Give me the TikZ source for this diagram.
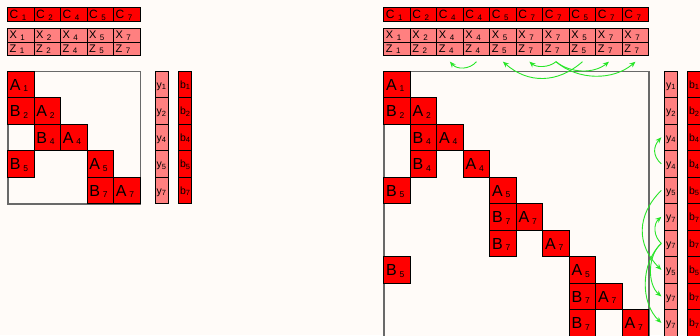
\documentclass[tikz,border=0pt]{standalone}
\usepackage{fontspec}
\setmainfont{Liberation Sans}
\usetikzlibrary{arrows.meta}
\definecolor{bgc}{RGB}{255,251,248}
\definecolor{cred}{RGB}{255,0,0}
\definecolor{cpink}{RGB}{255,128,128}
\definecolor{cgreen}{RGB}{40,230,40}
\definecolor{cframe}{RGB}{105,105,105}
\newcommand{\Lab}[2]{\makebox[21.5pt][l]{\fontsize{16}{16}\selectfont #1\hspace{2.8pt}\raisebox{-1.5pt}{\fontsize{8.5}{8.5}\selectfont #2}}}
\newcommand{\Cl}[2]{\makebox[22pt][l]{\fontsize{12}{12}\selectfont #1\hspace{3.5pt}\raisebox{-1.5pt}{\fontsize{8}{8}\selectfont #2}}}
\newcommand{\Xl}[2]{\makebox[22pt][l]{\fontsize{11}{11}\selectfont #1\hspace{3.5pt}\raisebox{-1.5pt}{\fontsize{8}{8}\selectfont #2}}}
\newcommand{\Yl}[2]{\makebox[10pt][l]{\fontsize{10.5}{10.5}\selectfont #1\raisebox{-1.8pt}{\fontsize{7.5}{7.5}\selectfont #2}}}
\tikzset{
  blk/.style={draw=black, line width=0.8pt, fill=cred, minimum width=26.5pt, minimum height=26.5pt,
    inner xsep=2.5pt, inner ysep=0pt, text height=11.5pt, text depth=0pt, anchor=north west},
  ccell/.style={draw=black, line width=0.8pt, minimum width=26.5pt, minimum height=13.3pt,
    inner xsep=2.2pt, inner ysep=0pt, text height=8.7pt, text depth=0pt, anchor=north west},
  xcell/.style={draw=black, line width=0.8pt, minimum width=26.5pt, minimum height=13.3pt,
    inner xsep=2.2pt, inner ysep=0pt, text height=6.9pt, text depth=0pt, anchor=north west},
  vcell/.style={draw=black, line width=0.8pt, minimum width=12.8pt, minimum height=26.5pt,
    inner xsep=1.4pt, inner ysep=0pt, text height=7.6pt, text depth=0pt, anchor=north west},
  frame/.style={draw=cframe, line width=1.5pt, fill=bgc, inner sep=0pt, anchor=north west},
  garr/.style={draw=cgreen, line width=0.9pt, -{Stealth[length=6pt,width=5pt]}}
}
\begin{document}
\begin{tikzpicture}[x=1pt,y=-1pt]
\useasboundingbox (0,0) rectangle (700,335);
\fill[bgc] (0,0) rectangle (700,335);

% ---------- left part ----------
\foreach \i/\n in {0/1,1/2,2/4,3/5,4/7}{
  \node[ccell, fill=cred] (LC\i) at ({7+26.5*\i},7.3) {\Cl{C}{\n}};
  \node[xcell, fill=cpink] (LX\i) at ({7+26.5*\i},28.3) {\Xl{X}{\n}};
  \node[xcell, fill=cpink] (LZ\i) at ({7+26.5*\i},41.6) {\Xl{Z}{\n}};
}
\node[frame, minimum width=132.5pt, minimum height=132.5pt] (LM) at (7,70.7) {};
\foreach \r/\c/\L/\n in {0/0/A/1,1/0/B/2,1/1/A/2,2/1/B/4,2/2/A/4,3/0/B/5,3/3/A/5,4/3/B/7,4/4/A/7}{
  \node[blk] (LB\r-\c) at ({7+26.5*\c},{70.7+26.5*\r}) {\Lab{\L}{\n}};
}
\foreach \r/\n in {0/1,1/2,2/4,3/5,4/7}{
  \node[vcell, fill=cpink] (LY\r) at (154.7,{70.7+26.5*\r}) {\Yl{y}{\n}};
  \node[vcell, fill=cred] (LBv\r) at (178.3,{70.7+26.5*\r}) {\Yl{b}{\n}};
}

% ---------- right part ----------
\foreach \i/\n in {0/1,1/2,2/4,3/4,4/5,5/7,6/7,7/5,8/7,9/7}{
  \node[ccell, fill=cred] (RC\i) at ({383.3+26.5*\i},7.3) {\Cl{C}{\n}};
  \node[xcell, fill=cpink] (RX\i) at ({383.3+26.5*\i},28.3) {\Xl{X}{\n}};
  \node[xcell, fill=cpink] (RZ\i) at ({383.3+26.5*\i},41.6) {\Xl{Z}{\n}};
}
\node[frame, minimum width=265pt, minimum height=270pt] (RM) at (383.3,70.7) {};
\foreach \r/\c/\L/\n in {0/0/A/1,1/0/B/2,1/1/A/2,2/1/B/4,2/2/A/4,3/1/B/4,3/3/A/4,
    4/0/B/5,4/4/A/5,5/4/B/7,5/5/A/7,6/4/B/7,6/6/A/7,7/0/B/5,7/7/A/5,8/7/B/7,8/8/A/7,9/7/B/7,9/9/A/7}{
  \node[blk] (RB\r-\c) at ({383.3+26.5*\c},{70.7+26.5*\r}) {\Lab{\L}{\n}};
}
\foreach \r/\n in {0/1,1/2,2/4,3/4,4/5,5/7,6/7,7/5,8/7,9/7}{
  \node[vcell, fill=cpink] (RY\r) at (664.3,{70.7+26.5*\r}) {\Yl{y}{\n}};
  \node[vcell, fill=cred] (RBv\r) at (687.3,{70.7+26.5*\r}) {\Yl{b}{\n}};
}

% ---------- green arrows, top ----------
\draw[garr] ([yshift=-6pt]RZ3.south) .. controls +(-7,8) and +(7,8) .. ([yshift=-6pt]RZ2.south);
\draw[garr] ([yshift=-6pt]RZ6.south) .. controls +(-7,6) and +(7,6) .. ([yshift=-6pt]RZ5.south);
\draw[garr] ([yshift=-6pt]RZ7.south) .. controls +(-25,22) and +(25,22) .. ([yshift=-6pt]RZ4.south);
\draw[garr] ([yshift=-6pt]RZ6.south) .. controls +(15,12) and +(-15,12) .. ([yshift=-6pt]RZ8.south);
\draw[garr] ([yshift=-6pt]RZ6.south) .. controls +(22,19) and +(-22,19) .. ([yshift=-6pt]RZ9.south);

% ---------- green arrows, right ----------
\draw[garr] ([xshift=-3pt]RY3.west) .. controls +(-9,-8) and +(-8,9) .. ([xshift=-3pt]RY2.west);
\draw[garr] ([xshift=-3pt]RY6.west) .. controls +(-8,-7) and +(-8,7) .. ([xshift=-3pt]RY5.west);
\draw[garr] ([xshift=-3pt]RY4.west) .. controls +(-25,25) and +(-25,-25) .. ([xshift=-3pt]RY7.west);
\draw[garr] ([xshift=-3pt]RY6.west) .. controls +(-14,12) and +(-14,-12) .. ([xshift=-3pt]RY8.west);
\draw[garr] ([xshift=-3pt]RY6.west) .. controls +(-21,20) and +(-21,-20) .. ([xshift=-3pt]RY9.west);
\end{tikzpicture}
\end{document}
